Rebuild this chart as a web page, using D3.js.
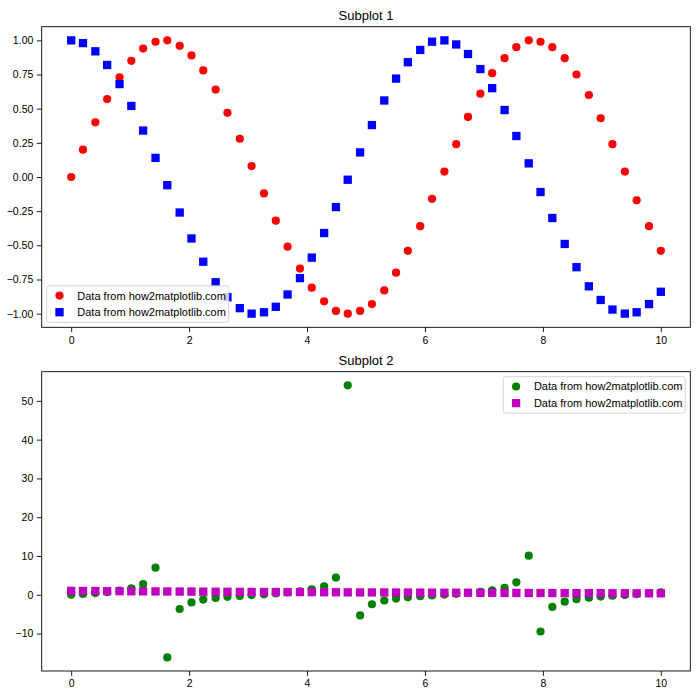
<!DOCTYPE html>
<html><head><meta charset="utf-8">
<script src="https://cdn.jsdelivr.net/npm/d3@7"></script>
<style>
html,body{margin:0;padding:0;background:#fff;}
svg text{font-family:"Liberation Sans",Arial,sans-serif;fill:#000;}
</style></head>
<body>
<svg id="chart" width="700" height="700"></svg>
<script>
const xValues = [0.00,0.20,0.41,0.61,0.82,1.02,1.22,1.43,1.63,1.84,2.04,2.24,2.45,2.65,2.86,3.06,3.27,3.47,3.67,3.88,4.08,4.29,4.49,4.69,4.90,5.10,5.31,5.51,5.71,5.92,6.12,6.33,6.53,6.73,6.94,7.14,7.35,7.55,7.76,7.96,8.16,8.37,8.57,8.78,8.98,9.18,9.39,9.59,9.80,10.00];
const redSeries = [0.00,0.20,0.40,0.57,0.73,0.85,0.94,0.99,1.00,0.96,0.89,0.78,0.64,0.47,0.28,0.08,-0.12,-0.32,-0.51,-0.67,-0.81,-0.91,-0.98,-1.00,-0.98,-0.93,-0.83,-0.70,-0.54,-0.36,-0.16,0.04,0.24,0.44,0.61,0.76,0.87,0.95,1.00,0.99,0.95,0.87,0.75,0.60,0.43,0.24,0.04,-0.17,-0.36,-0.54];
const blueSeries = [1.00,0.98,0.92,0.82,0.68,0.52,0.34,0.14,-0.06,-0.26,-0.45,-0.62,-0.77,-0.88,-0.96,-1.00,-0.99,-0.95,-0.86,-0.74,-0.59,-0.41,-0.22,-0.02,0.18,0.38,0.56,0.72,0.84,0.93,0.99,1.00,0.97,0.90,0.79,0.65,0.49,0.30,0.10,-0.11,-0.30,-0.49,-0.66,-0.80,-0.90,-0.97,-1.00,-0.99,-0.93,-0.84];
const greenSeries = [0.00,0.21,0.43,0.70,1.06,1.63,2.77,6.98,-16.15,-3.67,-1.97,-1.25,-0.83,-0.53,-0.29,-0.08,0.12,0.34,0.59,0.91,1.37,2.20,4.42,54.01,-5.33,-2.44,-1.48,-0.98,-0.64,-0.38,-0.16,0.04,0.25,0.49,0.77,1.16,1.80,3.20,10.08,-9.47,-3.13,-1.77,-1.15,-0.76,-0.48,-0.25,-0.04,0.17,0.39,0.65];
const magentaSeries = [1.00,0.98,0.96,0.94,0.92,0.90,0.88,0.87,0.85,0.83,0.82,0.80,0.78,0.77,0.75,0.74,0.72,0.71,0.69,0.68,0.67,0.65,0.64,0.63,0.61,0.60,0.59,0.58,0.57,0.55,0.54,0.53,0.52,0.51,0.50,0.49,0.48,0.47,0.46,0.45,0.44,0.43,0.42,0.42,0.41,0.40,0.39,0.38,0.38,0.37];
const xTicks = [0,2,4,6,8,10];
const yTicks1 = [-1.00,-0.75,-0.50,-0.25,0.00,0.25,0.50,0.75,1.00];
const yTicks2 = [-10,0,10,20,30,40,50];
const titles = ["Subplot 1","Subplot 2"];
const legendLabel = "Data from how2matplotlib.com";

const svg = d3.select("#chart");
const L = 41.7, R = 690.3;

function pad(ext){ const r = ext[1]-ext[0]; return [ext[0]-0.05*r, ext[1]+0.05*r]; }

function panel(top, bottom, title, series, yTicks, fmt, legendPos){
  const g = svg.append("g");
  const xs = d3.scaleLinear().domain(pad(d3.extent(xValues))).range([L, R]);
  const allY = series.flatMap(s => s.values);
  const ys = d3.scaleLinear().domain(pad(d3.extent(allY))).range([bottom, top]);

  series.forEach(s => {
    const pts = xValues.map((x,i)=>({x, y:s.values[i]}));
    if (s.shape === "circle") {
      g.append("g").selectAll("circle").data(pts).join("circle")
        .attr("cx", d=>xs(d.x)).attr("cy", d=>ys(d.y)).attr("r", 4.1).attr("fill", s.color);
    } else {
      const sz = 8.3;
      g.append("g").selectAll("rect").data(pts).join("rect")
        .attr("x", d=>xs(d.x)-sz/2).attr("y", d=>ys(d.y)-sz/2).attr("width", sz).attr("height", sz).attr("fill", s.color);
    }
  });

  // axes
  const xAxis = d3.axisBottom(xs).tickValues(xTicks).tickSize(4.9).tickPadding(3.5).tickFormat(d3.format("d"));
  const yAxis = d3.axisLeft(ys).tickValues(yTicks).tickSize(4.9).tickPadding(3.5).tickFormat(fmt);
  const gx = g.append("g").attr("transform", `translate(0,${bottom})`).call(xAxis);
  const gy = g.append("g").attr("transform", `translate(${L},0)`).call(yAxis);
  [gx, gy].forEach(a => {
    a.select(".domain").remove();
    a.selectAll("line").attr("stroke", "#000").attr("stroke-width", 0.9);
    a.selectAll("text").attr("font-size", "10.5px").attr("fill", "#000");
  });
  gx.selectAll("text").attr("dy", "0.75em");

  g.append("rect").attr("x", L).attr("y", top).attr("width", R-L).attr("height", bottom-top)
    .attr("fill", "none").attr("stroke", "#000").attr("stroke-width", 0.9);

  g.append("text").attr("x", (L+R)/2).attr("y", top-6.8).attr("text-anchor", "middle")
    .attr("font-size", "13px").text(title);

  // legend
  const lw = 182, lh = 36.5;
  const lx = legendPos === "ll" ? L+5 : R-5-lw;
  const ly = legendPos === "ll" ? bottom-5-lh : top+5;
  const lg = g.append("g").attr("transform", `translate(${lx},${ly})`);
  lg.append("rect").attr("width", lw).attr("height", lh).attr("rx", 2.5)
    .attr("fill", "rgba(255,255,255,0.8)").attr("stroke", "#d0d0d0").attr("stroke-width", 0.9);
  series.forEach((s,i) => {
    const cy = 9.8 + i*16.6;
    if (s.shape === "circle") {
      lg.append("circle").attr("cx", 12.8).attr("cy", cy).attr("r", 4.1).attr("fill", s.color);
    } else {
      lg.append("rect").attr("x", 12.8-4.15).attr("y", cy-4.15).attr("width", 8.3).attr("height", 8.3).attr("fill", s.color);
    }
    lg.append("text").attr("x", 30.6).attr("y", cy).attr("dy", "0.36em")
      .attr("font-size", "11px").text(s.label);
  });
}

panel(26.7, 327.3, titles[0], [
  {values: redSeries, color: "#ff0000", shape: "circle", label: legendLabel},
  {values: blueSeries, color: "#0000ff", shape: "square", label: legendLabel}
], yTicks1, d3.format(".2f"), "ll");

panel(371.7, 671, titles[1], [
  {values: greenSeries, color: "#008000", shape: "circle", label: legendLabel},
  {values: magentaSeries, color: "#bf00bf", shape: "square", label: legendLabel}
], yTicks2, d3.format("d"), "ur");
</script>
</body></html>
